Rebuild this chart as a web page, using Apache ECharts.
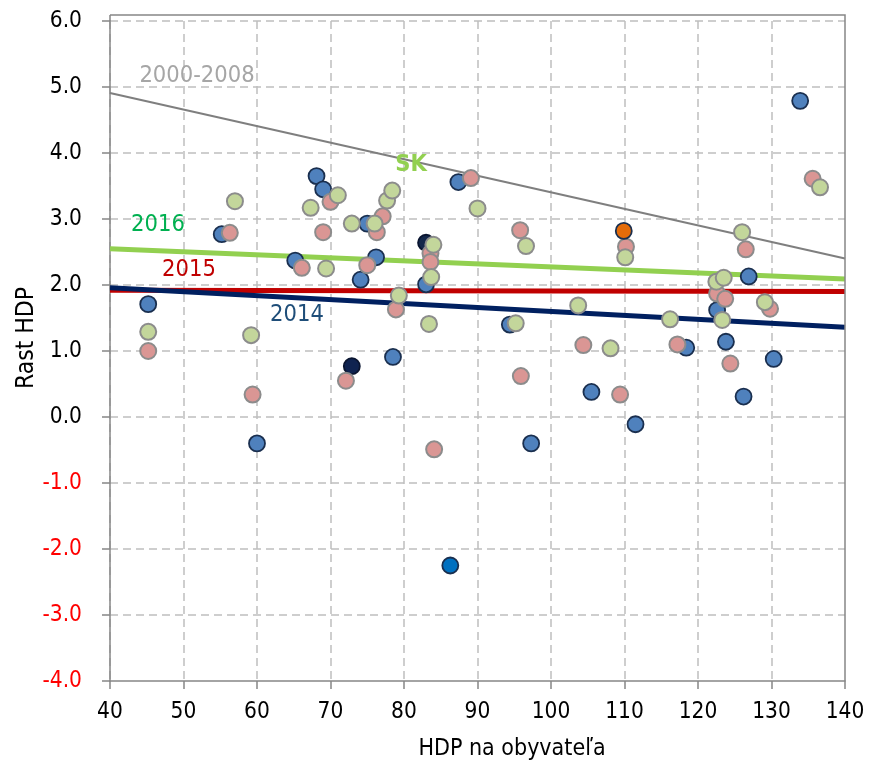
<!DOCTYPE html>
<html>
<head>
<meta charset="utf-8">
<script src="https://cdn.jsdelivr.net/npm/echarts@6/dist/echarts.min.js"></script>
<style>
html,body{margin:0;padding:0;background:#fff;}
#chart{width:869px;height:765px;}
</style>
</head>
<body>
<div id="chart"></div>
<script>
// Data
var growth2014 = [
  [45.2,1.71],[55.2,2.77],[60.0,-0.40],[65.2,2.37],[68.1,3.65],[69.0,3.45],
  [74.1,2.08],[75.0,2.93],[76.2,2.42],[78.5,0.91],[83.0,2.01],[87.4,3.56],
  [94.4,1.40],[97.3,-0.40],[105.5,0.38],[111.5,-0.11],[118.4,1.05],[122.6,1.62],
  [123.8,1.14],[126.2,0.31],[126.9,2.13],[130.3,0.88],[133.9,4.79]
];
var growth2015 = [
  [45.2,1.00],[56.3,2.79],[59.4,0.34],[66.1,2.26],[69.0,2.80],[70.0,3.26],
  [72.1,0.55],[75.0,2.30],[76.3,2.80],[77.1,3.04],[78.9,1.63],[83.6,2.48],
  [83.6,2.35],[84.1,-0.49],[89.1,3.62],[95.8,2.83],[95.9,0.62],[104.4,1.09],
  [109.4,0.34],[110.2,2.58],[117.2,1.10],[122.6,1.87],[123.7,1.79],[124.4,0.81],
  [126.5,2.54],[129.8,1.64],[135.6,3.61]
];
var growth2016 = [
  [45.2,1.29],[57.0,3.27],[59.2,1.24],[67.3,3.17],[69.4,2.25],[71.0,3.36],
  [72.9,2.93],[76.0,2.93],[77.7,3.28],[78.4,3.43],[79.3,1.84],[83.4,1.41],
  [83.7,2.12],[84.0,2.61],[90.0,3.16],[95.2,1.42],[96.6,2.59],[103.7,1.69],
  [108.1,1.04],[110.1,2.42],[116.2,1.48],[122.5,2.05],[123.5,2.11],[123.3,1.47],
  [126.0,2.80],[129.1,1.74],[136.6,3.48]
];
var navyPoint = [[72.9,0.77]];
var darkPoint = [[83.0,2.64]];
var brightBluePoint = [[86.3,-2.25]];
var orangePoint = [[109.9,2.82]];

var trend2000_2008 = [[40,4.91],[140,2.40]];
var trend2016 = [[40,2.55],[140,2.09]];
var trend2015 = [[40,1.92],[140,1.90]];
var trend2014 = [[40,1.96],[140,1.36]];

var xTitle = 'HDP na obyvateľa';
var yTitle = 'Rast HDP';
var lineLabels = ['2000-2008','SK','2016','2015','2014'];

var FONT = '"DejaVu Sans Condensed","DejaVu Sans",sans-serif';
var chart = echarts.init(document.getElementById('chart'));

function scat(data, fill, border, bw, z){
  return {type:'scatter', data:data, symbolSize:16, z:z, silent:true,
    itemStyle:{color:fill, borderColor:border, borderWidth:bw, opacity:1}};
}
function trend(data, color, w){
  return {type:'line', data:data, symbol:'none', z:1, silent:true,
    lineStyle:{color:color, width:w}};
}

var option = {
  animation:false,
  backgroundColor:'#fff',
  grid:{left:110, right:24, top:21, bottom:84, containLabel:false},
  xAxis:{type:'value', min:40, max:140, interval:10,
    axisLine:{show:true, onZero:false, lineStyle:{color:'#868686', width:1.5}},
    axisTick:{show:true, length:8, lineStyle:{color:'#868686', width:1.5}},
    axisLabel:{margin:20, color:'#000', fontFamily:FONT, fontSize:22.5},
    splitLine:{show:true, showMaxLine:false, lineStyle:{color:'#bfbfbf', width:1.5, type:[8,5]}}
  },
  yAxis:{type:'value', min:-4, max:6, interval:1,
    axisLine:{show:true, onZero:false, lineStyle:{color:'#868686', width:1.5}},
    axisTick:{show:true, length:8, lineStyle:{color:'#868686', width:1.5}},
    axisLabel:{margin:28, fontFamily:FONT, fontSize:22.5,
      formatter:function(v){return v.toFixed(1);},
      color:function(v){return Number(v) < 0 ? '#ff0000' : '#000';}},
    splitLine:{show:true, showMinLine:false, lineStyle:{color:'#bfbfbf', width:1.5, type:[8,5]}}
  },
  series:[
    trend(trend2000_2008, '#7f7f7f', 2),
    trend(trend2016, '#92d050', 5),
    trend(trend2015, '#c00000', 5),
    trend(trend2014, '#002060', 5),
    scat(growth2014, '#4f81bd', '#1a2f4f', 1.8, 3),
    scat(navyPoint, '#0f2350', '#0a1530', 1.8, 3),
    scat(darkPoint, '#14284a', '#0a1530', 1.8, 3),
    scat(growth2015, '#da9694', '#8c8c8c', 2, 4),
    scat(growth2016, '#c3d69b', '#8c8c8c', 2, 5),
    scat(brightBluePoint, '#0070c0', '#1a2f4f', 1.8, 6),
    scat(orangePoint, '#e46c0a', '#1a2f4f', 1.8, 6)
  ]
};
chart.setOption(option);

var p0 = chart.convertToPixel({gridIndex:0}, [40,-4]);
var p1 = chart.convertToPixel({gridIndex:0}, [140,6]);
var plotTop = p1[1] - 6;

function lbl(text, x, y, color, bold){
  return {type:'text', x:x, y:y, z:10, silent:true,
    style:{text:text, fill:color, font:(bold?'bold ':'')+'23.5px '+FONT, textAlign:'center', textVerticalAlign:'middle'}};
}

chart.setOption({graphic:[
  {type:'polyline', silent:true, z:2,
    shape:{points:[[p0[0],plotTop],[p1[0],plotTop],[p1[0],p0[1]]]},
    style:{stroke:'#868686', lineWidth:1.5, fill:null}},
  {type:'line', silent:true, z:2, shape:{x1:p0[0],y1:plotTop,x2:p0[0],y2:p1[1]}, style:{stroke:'#868686', lineWidth:1.5}},
  lbl(lineLabels[0], 197, 76, '#a6a6a6', false),
  lbl(lineLabels[1], 411, 165, '#92d050', true),
  lbl(lineLabels[2], 158, 225, '#00b050', false),
  lbl(lineLabels[3], 189, 270, '#c00000', false),
  lbl(lineLabels[4], 297, 315, '#1f4e79', false),
  {type:'text', x:512, y:749, silent:true,
    style:{text:xTitle, fill:'#000', font:'23px '+FONT, textAlign:'center', textVerticalAlign:'middle'}},
  {type:'text', x:27, y:338, rotation:Math.PI/2, silent:true,
    style:{text:yTitle, fill:'#000', font:'24.5px '+FONT, textAlign:'center', textVerticalAlign:'middle'}}
]});
</script>
</body>
</html>
